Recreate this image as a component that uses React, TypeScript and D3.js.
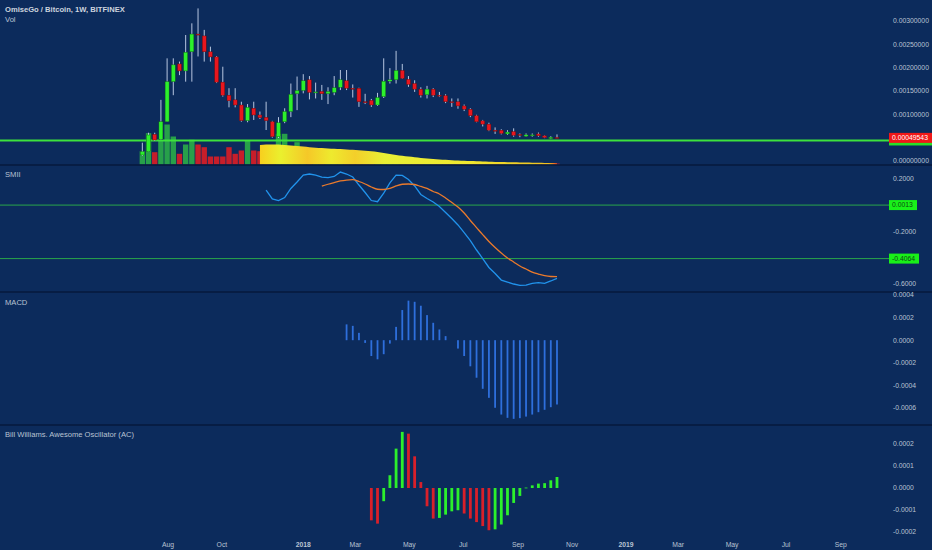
import * as d3 from "d3";

const W = 932;
const H = 550;
const PLOT_RIGHT = 885;
const LABEL_X = 893;

// weekly OMG/BTC candles, first bar = week of 2017-07-03
const weekStart = new Date(2017, 6, 3);

const opens = [
  0.000129, 0.000199, 0.000572, 0.000465, 0.000842, 0.0017, 0.00208, 0.00193, 0.00234, 0.00272,
  0.00268, 0.00234, 0.00223, 0.00169, 0.00141, 0.00131, 0.0012, 0.000864, 0.00113, 0.000986,
  0.000936, 0.000842, 0.00052, 0.00084, 0.00106, 0.00144, 0.00151, 0.00174, 0.00147, 0.00149,
  0.00144, 0.00147, 0.00158, 0.00172, 0.00156, 0.00156, 0.00127, 0.0013, 0.0012, 0.00138,
  0.00171, 0.00174, 0.00194, 0.00175, 0.00166, 0.00154, 0.00142, 0.00154, 0.00141, 0.0014,
  0.00127, 0.00127, 0.00118, 0.00111, 0.00097, 0.00086, 0.00079, 0.00066, 0.00066, 0.00058,
  0.00063, 0.00057, 0.00053, 0.00054, 0.00058, 0.00054, 0.00048, 0.000505,
];
const highs = [
  0.000392, 0.000606, 0.000606, 0.00131, 0.0022, 0.0022, 0.00213, 0.0027, 0.00295, 0.00327,
  0.00281, 0.00245, 0.00225, 0.00202, 0.00156, 0.00156, 0.00127, 0.00122, 0.00127, 0.00106,
  0.00127, 0.00086, 0.00094, 0.00113, 0.00166, 0.00181, 0.00186, 0.00182, 0.00168, 0.00163,
  0.00158, 0.00182, 0.00195, 0.00195, 0.00164, 0.00157, 0.00144, 0.00133, 0.00146, 0.0022,
  0.00199, 0.00236, 0.00208, 0.00182, 0.00173, 0.00158, 0.00161, 0.00156, 0.00148, 0.00143,
  0.00134, 0.00134, 0.00121, 0.00113, 0.00099, 0.00088, 0.00082, 0.00072, 0.00068, 0.00066,
  0.0007, 0.00059, 0.00059, 0.00059, 0.00061, 0.00055, 0.00053, 0.00057,
];
const lows = [
  0.000107, 0.000193, 0.000429, 0.00045, 0.000836, 0.00141, 0.00184, 0.0017, 0.0017, 0.00224,
  0.00213, 0.00213, 0.00167, 0.00138, 0.00115, 0.00115, 0.000842, 0.00083, 0.000879, 0.0009,
  0.000664, 0.0005, 0.000493, 0.00081, 0.00094, 0.00109, 0.00145, 0.00132, 0.00134, 0.00131,
  0.00122, 0.00141, 0.00152, 0.00152, 0.00136, 0.00116, 0.00122, 0.00116, 0.00118, 0.00135,
  0.00166, 0.00166, 0.00176, 0.00159, 0.00148, 0.00136, 0.00134, 0.00137, 0.00137, 0.00124,
  0.00116, 0.00112, 0.00107, 0.00094, 0.00083, 0.00074, 0.00064, 0.00058, 0.00057, 0.00056,
  0.00052, 0.00051, 0.00052, 0.00052, 0.00052, 0.00049, 0.00047, 0.00049,
];
const closes = [
  0.000199, 0.000557, 0.00045, 0.000842, 0.0017, 0.00206, 0.00193, 0.00233, 0.00272, 0.0027,
  0.00234, 0.00223, 0.00169, 0.00141, 0.00129, 0.0012, 0.000864, 0.00115, 0.000986, 0.000928,
  0.000864, 0.00052, 0.00082, 0.00106, 0.00143, 0.00151, 0.00172, 0.00147, 0.00148, 0.00144,
  0.00149, 0.00157, 0.00174, 0.00156, 0.00155, 0.00127, 0.00126, 0.0012, 0.00136, 0.00171,
  0.00174, 0.00194, 0.00177, 0.00164, 0.00154, 0.00141, 0.00154, 0.00141, 0.0014, 0.00127,
  0.00126, 0.00118, 0.00111, 0.00097, 0.00084, 0.00079, 0.00066, 0.00065, 0.00059, 0.00062,
  0.00055, 0.00055, 0.00056, 0.00056, 0.00054, 0.0005, 0.00051, 0.00049543,
];
const volumes = [
  1330, 3130, 1230, 2470, 4000, 2800, 1070, 2000, 2470, 2000,
  1730, 800, 800, 800, 1730, 1070, 1400, 2400, 1400, 1330,
  1500, 1700, 3070, 3070, 1700, 2230, 1600, 1500, 1400, 1400,
  1300, 1300, 1200, 1200, 1100, 1100, 1000, 1000, 900, 900,
  800, 700, 700, 600, 500, 500, 450, 400, 400, 350,
  300, 300, 280, 260, 240, 220, 200, 190, 180, 170,
  160, 150, 140, 130, 120, 110, 100, 90,
];

// yellow volume overlay, from bar 19
const volAreaStart = 19;
const volAreaValues = [
  1950, 2000, 2000, 2000, 1950, 1900, 1850, 1800, 1730, 1680,
  1640, 1600, 1570, 1540, 1500, 1470, 1430, 1380, 1320, 1250,
  1160, 1060, 960, 870, 790, 720, 660, 610, 560, 510,
  470, 430, 400, 370, 340, 320, 300, 280, 260, 250,
  230, 220, 210, 190, 180, 170, 150, 140, 130,
];

const lastPrice = 0.00049543;
const supportLevel = 0.00044;

// SMII
const smiiStart = 20;
const smiiValues = [
  0.116, 0.048, 0.035, 0.059, 0.128, 0.177, 0.23, 0.238, 0.23, 0.215,
  0.211, 0.219, 0.253, 0.238, 0.215, 0.154, 0.097, 0.036, 0.027, 0.093,
  0.17, 0.23, 0.227, 0.196, 0.147, 0.082, 0.051, 0.025, -0.01, -0.055,
  -0.101, -0.15, -0.208, -0.269, -0.341, -0.406, -0.474, -0.52, -0.57, -0.585,
  -0.6, -0.611, -0.609, -0.596, -0.589, -0.595, -0.577, -0.557,
];
const signalStart = 29;
const signalValues = [
  0.145, 0.16, 0.173, 0.185, 0.192, 0.195, 0.181, 0.162, 0.139, 0.122,
  0.12, 0.128, 0.147, 0.16, 0.162, 0.158, 0.143, 0.128, 0.105, 0.086,
  0.055, 0.021, -0.013, -0.059, -0.116, -0.17, -0.224, -0.276, -0.322, -0.364,
  -0.402, -0.432, -0.463, -0.486, -0.509, -0.524, -0.537, -0.543, -0.544,
];
const smiiLevels = [0.0013, -0.4064];

// MACD histogram
const macdStart = 33;
const macdValues = [
  0.00014, 0.000127, 0.000065, -0.000024, -0.00014, -0.000169, -0.000124, -0.00003, 0.000118, 0.000267,
  0.00035, 0.00034, 0.000305, 0.000222, 0.000154, 0.000095, 0.000036, 0, -0.000074, -0.00014,
  -0.000231, -0.000332, -0.00043, -0.00051, -0.000598, -0.000658, -0.000687, -0.000696, -0.00069, -0.000676,
  -0.000658, -0.000637, -0.000616, -0.000593, -0.000569,
];

// Accelerator oscillator
const acStart = 37;
const acValues = [
  -0.000147, -0.000162, -0.00006, 0.000058, 0.000179, 0.000255, 0.000247, 0.000144, 0.000027, -0.000083,
  -0.000139, -0.000136, -0.000121, -0.000106, -0.000101, -0.000116, -0.000139, -0.000155, -0.000173, -0.000192,
  -0.000188, -0.000166, -0.000124, -0.000068, -0.000036, 0.000002, 0.000012, 0.00002, 0.000022, 0.000035,
  0.00005,
];

const priceTicks = [0, 0.001, 0.0015, 0.002, 0.0025, 0.003];
const smiiTicks = [0.2, -0.2, -0.6];
const macdTicks = [0.0004, 0.0002, 0, -0.0002, -0.0004, -0.0006];
const acTicks = [0.0002, 0.0001, 0, -0.0001, -0.0002];

const timeTicks = [
  new Date(2017, 7, 1), new Date(2017, 9, 1), new Date(2018, 0, 1), new Date(2018, 2, 1),
  new Date(2018, 4, 1), new Date(2018, 6, 1), new Date(2018, 8, 1), new Date(2018, 10, 1),
  new Date(2019, 0, 1), new Date(2019, 2, 1), new Date(2019, 4, 1), new Date(2019, 6, 1),
  new Date(2019, 8, 1),
];

const BG = "#0c2b5c";
const SEP = "#061a3d";
const TEXT = "#b9c3d3";
const FONT = "'Liberation Sans', Arial, sans-serif";
const UP = "#2cf02c";
const DOWN = "#e8161e";

const panels = {
  main: [0, 165],
  smii: [165, 292],
  macd: [292, 425],
  ac: [425, 538],
};

export default function App() {
  const dates = closes.map((_, i) => d3.timeDay.offset(weekStart, i * 7));

  const x = d3
    .scaleTime()
    .domain([new Date(2017, 0, 23), new Date(2019, 9, 21)])
    .range([0, PLOT_RIGHT]);

  const yPrice = d3.scaleLinear().domain([0, 0.003]).range([161, 21]);
  const yVol = d3.scaleLinear().domain([0, 4000]).range([164.5, 124.5]);
  const ySmii = d3.scaleLinear().domain([-0.6, 0.2]).range([284, 179]);
  const yMacd = d3.scaleLinear().domain([-0.0006, 0.0004]).range([408, 295]);
  const yAc = d3.scaleLinear().domain([-0.0002, 0.0002]).range([532, 444]);

  const volArea = d3
    .area<number>()
    .x((_, k) => x(dates[volAreaStart + k]))
    .y0(yVol(0))
    .y1((v) => yVol(v))
    .curve(d3.curveMonotoneX);

  const smiiLine = d3
    .line<number>()
    .x((_, k) => x(dates[smiiStart + k]))
    .y((v) => ySmii(v));
  const signalLine = d3
    .line<number>()
    .x((_, k) => x(dates[signalStart + k]))
    .y((v) => ySmii(v))
    .curve(d3.curveMonotoneX);

  const fmt = (d: number, n: number) => d.toFixed(n);

  const tickLabels = (ticks: number[], y: (v: number) => number, n: number, clip: string) => (
    <g clipPath={`url(#${clip})`}>
      {ticks.map((t) => (
        <text key={t} x={LABEL_X} y={y(t)} dy="0.35em" fontSize={6.8} fill={TEXT}>
          {fmt(t, n)}
        </text>
      ))}
    </g>
  );

  const levelBox = (v: number, label: string, y: (v: number) => number, fill: string, color: string, w: number) => (
    <g key={label}>
      <rect x={889} y={y(v) - 5} width={w} height={10} fill={fill} />
      <text x={892} y={y(v)} dy="0.35em" fontSize={6.8} fill={color}>
        {label}
      </text>
    </g>
  );

  return (
    <div style={{ position: "fixed", left: 0, top: 0 }}>
      <svg width={W} height={H} style={{ display: "block", fontFamily: FONT }}>
        <defs>
          {Object.entries(panels).map(([k, [a, b]]) => (
            <clipPath id={`clip-${k}`} key={k}>
              <rect x={0} y={a} width={W} height={b - a} />
            </clipPath>
          ))}
          <linearGradient
            id="volHeat"
            gradientUnits="userSpaceOnUse"
            x1={x(dates[volAreaStart])}
            x2={x(dates[dates.length - 1])}
            y1={0}
            y2={0}
          >
            <stop offset="0" stopColor="#f8cf1e" />
            <stop offset="0.07" stopColor="#eaf02e" />
            <stop offset="0.16" stopColor="#f5c828" />
            <stop offset="0.24" stopColor="#eeea2e" />
            <stop offset="0.32" stopColor="#f3cf2a" />
            <stop offset="0.42" stopColor="#e8ef35" />
            <stop offset="0.7" stopColor="#f0e830" />
            <stop offset="0.97" stopColor="#f0c020" />
            <stop offset="1" stopColor="#f04a20" />
          </linearGradient>
        </defs>

        <rect width={W} height={H} fill={BG} />

        {/* volume */}
        <g>
          {volumes.map((v, i) => (
            <rect
              key={i}
              x={x(dates[i]) - 2.7}
              y={yVol(v)}
              width={5.4}
              height={yVol(0) - yVol(v)}
              fill={closes[i] >= opens[i] ? "#27a04a" : "#c71e2a"}
            />
          ))}
          <path d={volArea(volAreaValues) || undefined} fill="url(#volHeat)" />
        </g>

        {/* support line */}
        <line x1={0} x2={W} y1={yPrice(supportLevel)} y2={yPrice(supportLevel)} stroke="#3de23d" strokeWidth={2} />

        {/* candles */}
        <g>
          {closes.map((c, i) => {
            const o = opens[i];
            const cx = x(dates[i]);
            const top = yPrice(Math.max(o, c));
            const bot = yPrice(Math.min(o, c));
            const up = c >= o;
            return (
              <g key={i}>
                <line x1={cx} x2={cx} y1={yPrice(highs[i])} y2={yPrice(lows[i])} stroke="#b7c6e0" strokeWidth={1} />
                <rect
                  x={cx - 2}
                  y={top}
                  width={4}
                  height={Math.max(1, bot - top)}
                  fill={up ? UP : DOWN}
                  stroke={up ? "#0e5a14" : "#5a0a0a"}
                  strokeWidth={0.4}
                />
              </g>
            );
          })}
        </g>

        {/* SMII */}
        {smiiLevels.map((v) => (
          <line key={v} x1={0} x2={889} y1={ySmii(v)} y2={ySmii(v)} stroke="#2aa54a" strokeWidth={1} />
        ))}
        <path d={smiiLine(smiiValues) || undefined} fill="none" stroke="#2193ec" strokeWidth={1.3} />
        <path d={signalLine(signalValues) || undefined} fill="none" stroke="#ea7a2c" strokeWidth={1.3} />

        {/* MACD */}
        {macdValues.map((v, k) => {
          const cx = x(dates[macdStart + k]);
          return (
            <rect
              key={k}
              x={cx - 0.9}
              y={Math.min(yMacd(v), yMacd(0))}
              width={1.8}
              height={Math.abs(yMacd(v) - yMacd(0))}
              fill="#2e6fdc"
            />
          );
        })}

        {/* AC */}
        {acValues.map((v, k) => {
          const cx = x(dates[acStart + k]);
          const rising = k > 0 && v > acValues[k - 1];
          return (
            <rect
              key={k}
              x={cx - 1.4}
              y={Math.min(yAc(v), yAc(0))}
              width={2.8}
              height={Math.max(0.8, Math.abs(yAc(v) - yAc(0)))}
              fill={rising ? "#2cf02c" : "#d9202a"}
            />
          );
        })}

        {/* separators */}
        {[panels.main[1], panels.smii[1], panels.macd[1]].map((y) => (
          <line key={y} x1={0} x2={W} y1={y} y2={y} stroke={SEP} strokeWidth={1.5} />
        ))}

        {/* price axes */}
        {tickLabels(priceTicks, yPrice, 8, "clip-main")}
        {tickLabels(smiiTicks, ySmii, 4, "clip-smii")}
        {tickLabels(macdTicks, yMacd, 4, "clip-macd")}
        {tickLabels(acTicks, yAc, 4, "clip-ac")}

        {levelBox(supportLevel, "", yPrice, "#28e028", "#0b3d0b", 43)}
        {levelBox(lastPrice, fmt(lastPrice, 8), yPrice, "#f01818", "#ffffff", 43)}
        {smiiLevels.map((v) => levelBox(v, fmt(v, 4), ySmii, "#19f019", "#0b4a12", v < 0 ? 30 : 28))}

        {/* time axis */}
        {timeTicks.map((t) => {
          const year = t.getMonth() === 0;
          return (
            <text
              key={t.getTime()}
              x={x(t)}
              y={546.5}
              textAnchor="middle"
              fontSize={6.8}
              fontWeight={year ? 700 : 400}
              fill={TEXT}
            >
              {year ? d3.timeFormat("%Y")(t) : d3.timeFormat("%b")(t)}
            </text>
          );
        })}

        {/* panel titles */}
        <text x={5} y={11.5} fontSize={7.6} fontWeight={700} fill="#cdd4df">
          OmiseGo / Bitcoin, 1W, BITFINEX
        </text>
        <text x={5} y={21.7} fontSize={7.6} fill={TEXT}>Vol</text>
        <text x={5} y={176.7} fontSize={7.6} fill={TEXT}>SMII</text>
        <text x={5} y={305} fontSize={7.6} fill={TEXT}>MACD</text>
        <text x={5} y={437} fontSize={7.6} fill={TEXT}>Bill Williams. Awesome Oscillator (AC)</text>
      </svg>
    </div>
  );
}
